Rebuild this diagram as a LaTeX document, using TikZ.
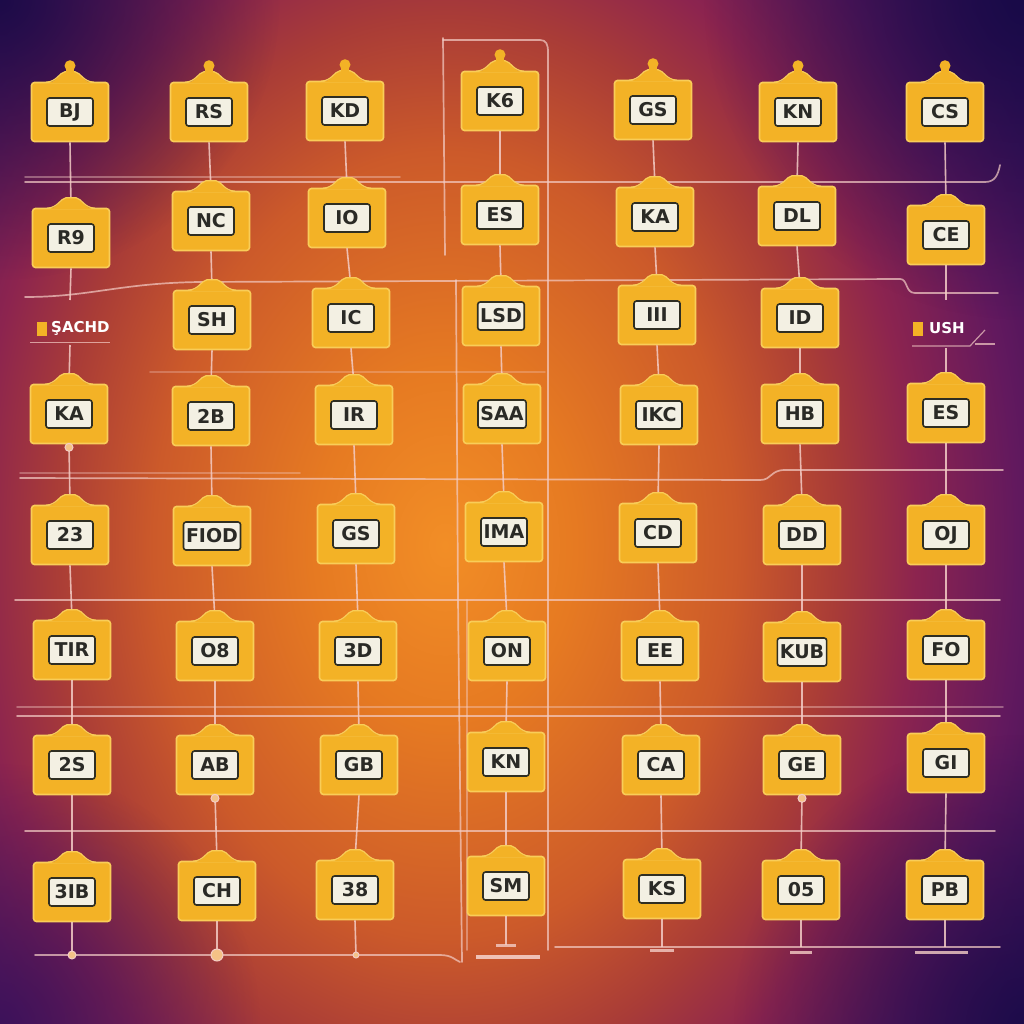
\documentclass[tikz,border=0pt]{standalone}
\usepackage{fontspec}
\setmainfont{DejaVu Sans}
\usetikzlibrary{fadings}
\definecolor{bgA}{HTML}{F28E26}
\definecolor{bgB}{HTML}{E67A22}
\definecolor{bgC}{HTML}{CC5A2A}
\definecolor{bgC2}{HTML}{A93C37}
\definecolor{bgD}{HTML}{8C244F}
\definecolor{bgE}{HTML}{62195E}
\definecolor{bgF}{HTML}{33105A}
\definecolor{bgG}{HTML}{160A46}
\definecolor{tagfill}{HTML}{F3B226}
\definecolor{tagedge}{HTML}{F9CD58}
\definecolor{lblbg}{HTML}{F3F0E3}
\definecolor{lbledge}{HTML}{2F2E22}
\definecolor{lbltext}{HTML}{2A2A26}
\definecolor{lineC}{HTML}{F4CDC6}
\pgfdeclareradialshading{bgshade}{\pgfpoint{0bp}{0bp}}{color(0bp)=(bgA); color(130bp)=(bgB); color(290bp)=(bgC); color(390bp)=(bgC2); color(470bp)=(bgD); color(570bp)=(bgE); color(690bp)=(bgF); color(820bp)=(bgG); color(950bp)=(bgG)}
\tikzfading[name=cornerfade, inner color=transparent!0, outer color=transparent!100]
\newcommand\tagat[4]{%
  \node[tagbox] (#1) at (#2,#3) {};
  \node[taglbl] (#1l) at (#1.center) {#4};}
\newcommand\tabon[1]{%
  \begin{scope}[shift={(#1.north)}]
    \fill[tagfill] (-24,1.5) .. controls (-13,1) and (-11,-9) .. (-5,-10) -- (5,-10) .. controls (11,-9) and (13,1) .. (24,1.5) -- cycle;
    \draw[tagedge, line width=1.2] (-24,0.5) .. controls (-13,0) and (-11,-9) .. (-5,-10) -- (5,-10) .. controls (11,-9) and (13,0) .. (24,0.5);
  \end{scope}}
\newcommand\knobon[1]{%
  \begin{scope}[shift={(#1.north)}]
    \fill[tagfill] (-4,-9) rectangle (4,-13);
    \fill[tagfill] (0,-16) circle (5.5);
  \end{scope}}
\begin{document}
\begin{tikzpicture}[x=1pt,y=-1pt,
  tagbox/.style={draw=tagedge, fill=tagfill, line width=1.6, rounded corners=3, minimum width=77, minimum height=59, inner sep=0},
  taglbl/.style={draw=lbledge, fill=lblbg, line width=1.6, rounded corners=2.5, minimum width=46, minimum height=28, inner sep=2.5, text=lbltext, font=\fontsize{19}{19}\selectfont\bfseries},
  conn/.style={draw=lineC, line width=1.6, opacity=.85},
  gridline/.style={draw=lineC, line width=1.7, opacity=.7, line cap=round},
  bead/.style={draw=lineC, fill=lineC!60!tagfill, line width=1},
  legtxt/.style={text=white, font=\fontsize{15}{15}\selectfont\bfseries, inner sep=1},
  legsq/.style={fill=tagfill, minimum width=10, minimum height=14, inner sep=0}]
\useasboundingbox (0,0) rectangle (1024,1024);
% background
\begin{scope}
  \clip (0,0) rectangle (1024,1024);
  \node[inner sep=0, outer sep=0] (bg) at (445,545) {\scalebox{1}[1.35]{\pgfuseshading{bgshade}}};
  \fill[bgG, path fading=cornerfade, opacity=.9] (0,0) circle (280);
  \fill[bgG, path fading=cornerfade, opacity=.9] (1024,0) circle (320);
  \fill[bgF, path fading=cornerfade, opacity=.8] (0,1024) circle (260);
  \fill[bgG, path fading=cornerfade, opacity=.8] (1024,1024) circle (290);
\end{scope}
% grid lines
\draw[gridline] (25,182) -- (985,182) .. controls (995,182) and (998,175) .. (1000,165);
\draw[gridline, opacity=.4] (25,177) -- (400,177);
\draw[gridline] (25,297) .. controls (90,297) and (120,283) .. (200,282) -- (900,279) .. controls (908,279) and (905,293) .. (915,293) -- (998,293);
\draw[gridline, opacity=.3] (150,372) -- (545,372);
\draw[gridline] (20,478) -- (760,480) .. controls (772,480) and (770,470) .. (785,470) -- (1003,470);
\draw[gridline, opacity=.35] (20,473) -- (300,473);
\draw[gridline] (15,600) -- (1000,600);
\draw[gridline, opacity=.4] (17,707) -- (1003,707);
\draw[gridline] (17,716) -- (1000,716);
\draw[gridline] (25,831) -- (995,831);
\draw[gridline] (35,955) -- (440,955) .. controls (452,955) and (455,960) .. (460,962);
\draw[gridline] (555,947) -- (1000,947);
\draw[gridline] (443,38) -- (445,255);
\draw[gridline] (443,40) -- (540,40) .. controls (546,40) and (548,44) .. (548,52) -- (548,950);
\draw[gridline] (456,280) -- (458,600) -- (462,962);
\draw[gridline, opacity=.45] (467,600) -- (467,950);
% column 1
\tagat{c1r1}{70}{112}{BJ}
\tagat{c1r2}{71}{238}{R9}
\tagat{c1r3}{69}{414}{KA}
\tagat{c1r4}{70}{535}{23}
\tagat{c1r5}{72}{650}{TIR}
\tagat{c1r6}{72}{765}{2S}
\tagat{c1r7}{72}{892}{3IB}
% column 2
\tagat{c2r1}{209}{112}{RS}
\tagat{c2r2}{211}{221}{NC}
\tagat{c2r3}{212}{320}{SH}
\tagat{c2r4}{211}{416}{2B}
\tagat{c2r5}{212}{536}{FIOD}
\tagat{c2r6}{215}{651}{O8}
\tagat{c2r7}{215}{765}{AB}
\tagat{c2r8}{217}{891}{CH}
% column 3
\tagat{c3r1}{345}{111}{KD}
\tagat{c3r2}{347}{218}{IO}
\tagat{c3r3}{351}{318}{IC}
\tagat{c3r4}{354}{415}{IR}
\tagat{c3r5}{356}{534}{GS}
\tagat{c3r6}{358}{651}{3D}
\tagat{c3r7}{359}{765}{GB}
\tagat{c3r8}{355}{890}{38}
% column 4
\tagat{c4r1}{500}{101}{K6}
\tagat{c4r2}{500}{215}{ES}
\tagat{c4r3}{501}{316}{LSD}
\tagat{c4r4}{502}{414}{SAA}
\tagat{c4r5}{504}{532}{IMA}
\tagat{c4r6}{507}{651}{ON}
\tagat{c4r7}{506}{762}{KN}
\tagat{c4r8}{506}{886}{SM}
% column 5
\tagat{c5r1}{653}{110}{GS}
\tagat{c5r2}{655}{217}{KA}
\tagat{c5r3}{657}{315}{III}
\tagat{c5r4}{659}{415}{IKC}
\tagat{c5r5}{658}{533}{CD}
\tagat{c5r6}{660}{651}{EE}
\tagat{c5r7}{661}{765}{CA}
\tagat{c5r8}{662}{889}{KS}
% column 6
\tagat{c6r1}{798}{112}{KN}
\tagat{c6r2}{797}{216}{DL}
\tagat{c6r3}{800}{318}{ID}
\tagat{c6r4}{800}{414}{HB}
\tagat{c6r5}{802}{535}{DD}
\tagat{c6r6}{802}{652}{KUB}
\tagat{c6r7}{802}{765}{GE}
\tagat{c6r8}{801}{890}{05}
% column 7
\tagat{c7r1}{945}{112}{CS}
\tagat{c7r2}{946}{235}{CE}
\tagat{c7r3}{946}{413}{ES}
\tagat{c7r4}{946}{535}{OJ}
\tagat{c7r5}{946}{650}{FO}
\tagat{c7r6}{946}{763}{GI}
\tagat{c7r7}{945}{890}{PB}
% legends
\node[legsq] (leg1sq) at (42,329) {};
\node[legtxt, anchor=west] (leg1) at (50,328) {ŞACHD};
\draw[lineC, line width=1, opacity=.7] (30,342) -- (110,342);
\node[legsq] (leg7sq) at (918,329) {};
\node[legtxt, anchor=west] (leg7) at (928,328) {USH};
\draw[lineC, line width=1.2, opacity=.7] (912,346) -- (970,346) -- (985,330);
\draw[lineC, line width=1.2, opacity=.7] (975,344) -- (995,344);
\coordinate (leg1top) at (70,300);
\coordinate (leg1bot) at (70,345);
\coordinate (leg7top) at (946,300);
\coordinate (leg7bot) at (946,348);
% connectors
\foreach \a/\b in {c1r1/c1r2, c1r3/c1r4, c1r4/c1r5, c1r5/c1r6, c1r6/c1r7,
  c2r1/c2r2, c2r2/c2r3, c2r3/c2r4, c2r4/c2r5, c2r5/c2r6, c2r6/c2r7, c2r7/c2r8,
  c3r1/c3r2, c3r2/c3r3, c3r3/c3r4, c3r4/c3r5, c3r5/c3r6, c3r6/c3r7, c3r7/c3r8,
  c4r1/c4r2, c4r2/c4r3, c4r3/c4r4, c4r4/c4r5, c4r5/c4r6, c4r6/c4r7, c4r7/c4r8,
  c5r1/c5r2, c5r2/c5r3, c5r3/c5r4, c5r4/c5r5, c5r5/c5r6, c5r6/c5r7, c5r7/c5r8,
  c6r1/c6r2, c6r2/c6r3, c6r3/c6r4, c6r4/c6r5, c6r5/c6r6, c6r6/c6r7, c6r7/c6r8,
  c7r1/c7r2, c7r3/c7r4, c7r4/c7r5, c7r5/c7r6, c7r6/c7r7}
  \draw[conn] (\a.south) -- (\b.north);
\draw[conn] (c1r2.south) -- (leg1top);
\draw[conn] (leg1bot) -- (c1r3.north);
\draw[conn] (c7r2.south) -- (leg7top);
\draw[conn] (leg7bot) -- (c7r3.north);
% bottom stubs
\coordinate (b1) at (72,955);
\coordinate (b2) at (217,955);
\coordinate (b3) at (356,955);
\coordinate (b4) at (506,945);
\coordinate (b5) at (662,947);
\coordinate (b6) at (801,947);
\coordinate (b7) at (945,947);
\foreach \n/\b in {c1r7/b1, c2r8/b2, c3r8/b3, c4r8/b4, c5r8/b5, c6r8/b6, c7r7/b7}
  \draw[conn] (\n.south) -- (\b);
\fill[bead] (b1) circle (4);
\fill[bead] (b2) circle (6);
\fill[bead] (b3) circle (3);
\draw[lineC, line width=4, opacity=.9] (476,957) -- (540,957);
\draw[lineC, line width=3, opacity=.8] (496,945) -- (516,945);
\draw[lineC, line width=3, opacity=.8] (650,950) -- (674,950);
\draw[lineC, line width=3, opacity=.8] (790,952) -- (812,952);
\draw[lineC, line width=3, opacity=.8] (915,952) -- (968,952);
\fill[bead] (c1r3.south) ++(0,3) circle (4);
\fill[bead] (c2r7.south) ++(0,3) circle (4);
\fill[bead] (c6r7.south) ++(0,3) circle (4);
% tabs
\foreach \n in {c1r1,c1r2,c1r3,c1r4,c1r5,c1r6,c1r7,
  c2r1,c2r2,c2r3,c2r4,c2r5,c2r6,c2r7,c2r8,
  c3r1,c3r2,c3r3,c3r4,c3r5,c3r6,c3r7,c3r8,
  c4r1,c4r2,c4r3,c4r4,c4r5,c4r6,c4r7,c4r8,
  c5r1,c5r2,c5r3,c5r4,c5r5,c5r6,c5r7,c5r8,
  c6r1,c6r2,c6r3,c6r4,c6r5,c6r6,c6r7,c6r8,
  c7r1,c7r2,c7r3,c7r4,c7r5,c7r6,c7r7}
  \tabon{\n};
\foreach \n in {c1r1,c2r1,c3r1,c4r1,c5r1,c6r1,c7r1}
  \knobon{\n};
\end{tikzpicture}
\end{document}
